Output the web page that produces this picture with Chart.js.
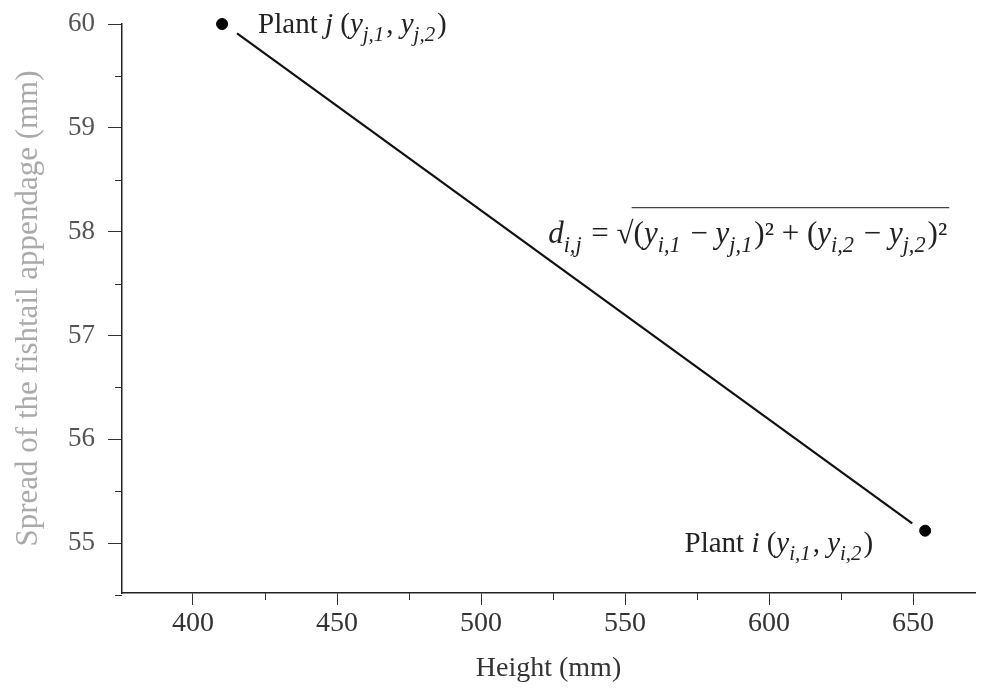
<!DOCTYPE html>
<html>
<head>
<meta charset="utf-8">
<script src="https://cdn.jsdelivr.net/npm/chart.js@4"></script>
<style>
  html, body { margin: 0; padding: 0; background: #fff; }
  #grafico { display: block; }
</style>
</head>
<body>
<canvas id="grafico" width="984" height="688"></canvas>
<script>
// pontos das duas plantas (altura mm, abertura mm)
const plantasX = [410.1, 654.2];
const plantasY = [60.0, 55.12];

// segmento entre as duas plantas (nao toca os pontos)
const retaX = [415.3, 649.7];
const retaY = [59.91, 55.19];

const ticksX = [400, 425, 450, 475, 500, 525, 550, 575, 600, 625, 650];
const ticksY = [54.5, 55, 55.5, 56, 56.5, 57, 57.5, 58, 58.5, 59, 59.5, 60];

const fonte = "Liberation Serif";

// desenha texto com italico / subscrito, devolve x final
function textoRico(ctx, partes, x, y, tam, medir) {
    partes.forEach(p => {
        const t = p.sub ? tam * 0.72 : tam;
        ctx.font = (p.it ? "italic " : "") + t + "px '" + fonte + "'";
        const dy = p.sub ? tam * 0.28 : 0;
        if (!medir) ctx.fillText(p.t, x, y + dy);
        x += ctx.measureText(p.t).width + (p.sub ? 2 : 0);
    });
    return x;
}

const legendaJ = [
    {t: "Plant "}, {t: "j", it: true}, {t: " ("},
    {t: "y", it: true}, {t: "j,1", it: true, sub: true}, {t: ", "},
    {t: "y", it: true}, {t: "j,2", it: true, sub: true}, {t: ")"}
];
const legendaI = [
    {t: "Plant "}, {t: "i", it: true}, {t: " ("},
    {t: "y", it: true}, {t: "i,1", it: true, sub: true}, {t: ", "},
    {t: "y", it: true}, {t: "i,2", it: true, sub: true}, {t: ")"}
];

const anotacoes = {
    id: "anotacoes",
    afterDatasetsDraw(chart) {
        const ctx = chart.ctx;
        const sx = chart.scales.x;
        const sy = chart.scales.y;
        const tam = 29;
        ctx.save();
        ctx.fillStyle = "#222";
        ctx.textBaseline = "alphabetic";
        ctx.textAlign = "left";

        // ticks menores, mais curtos
        ctx.strokeStyle = "#333";
        ctx.lineWidth = 1;
        ticksX.filter(v => v % 50 !== 0).forEach(v => {
            const px = Math.round(sx.getPixelForValue(v)) + 0.5;
            ctx.beginPath();
            ctx.moveTo(px, sy.bottom);
            ctx.lineTo(px, sy.bottom + 7);
            ctx.stroke();
        });
        ticksY.filter(v => v % 1 !== 0).forEach(v => {
            const py = Math.round(sy.getPixelForValue(v)) + 0.5;
            ctx.beginPath();
            ctx.moveTo(sx.left, py);
            ctx.lineTo(sx.left - 7, py);
            ctx.stroke();
        });

        // Plant j, a direita do ponto
        let px = sx.getPixelForValue(plantasX[0]) + 36;
        let py = sy.getPixelForValue(plantasY[0]) + 9;
        textoRico(ctx, legendaJ, px, py, tam);

        // Plant i, a esquerda do ponto
        const larg = textoRico(ctx, legendaI, 0, 0, tam, true);
        px = sx.getPixelForValue(plantasX[1]) - 52 - larg;
        py = sy.getPixelForValue(plantasY[1]) + 21;
        textoRico(ctx, legendaI, px, py, tam);

        // formula da distancia
        px = sx.getPixelForValue(523.3);
        py = sy.getPixelForValue(57.89);
        px = textoRico(ctx, [
            {t: "d", it: true}, {t: "i,j", it: true, sub: true}, {t: " = \u221A"}
        ], px, py, 31);
        const inicio = px;
        px = textoRico(ctx, [
            {t: "("}, {t: "y", it: true}, {t: "i,1", it: true, sub: true},
            {t: " \u2212 "}, {t: "y", it: true}, {t: "j,1", it: true, sub: true},
            {t: ")\u00B2 + ("}, {t: "y", it: true}, {t: "i,2", it: true, sub: true},
            {t: " \u2212 "}, {t: "y", it: true}, {t: "j,2", it: true, sub: true},
            {t: ")\u00B2"}
        ], px, py, 31);
        ctx.beginPath();
        ctx.moveTo(inicio - 2, py - 35.5);
        ctx.lineTo(px + 2, py - 35.5);
        ctx.strokeStyle = "#444";
        ctx.lineWidth = 1.2;
        ctx.stroke();
        ctx.restore();
    }
};

const ctx = document.getElementById("grafico").getContext("2d");

new Chart(ctx, {
    type: "scatter",
    data: {
        datasets: [{
            data: retaX.map((x, i) => ({x: x, y: retaY[i]})),
            showLine: true,
            borderColor: "#111",
            borderWidth: 2.2,
            pointRadius: 0,
            clip: false
        }, {
            data: plantasX.map((x, i) => ({x: x, y: plantasY[i]})),
            backgroundColor: "#000",
            borderColor: "#000",
            pointRadius: 5.5,
            clip: false
        }]
    },
    options: {
        responsive: false,
        animation: false,
        layout: { padding: { left: 0, right: 9, top: 24, bottom: 0 } },
        plugins: {
            legend: { display: false },
            tooltip: { enabled: false }
        },
        scales: {
            x: {
                type: "linear",
                min: 375.35,
                max: 671.5,
                afterBuildTicks: ax => { ax.ticks = ticksX.map(v => ({value: v})); },
                afterFit: ax => { ax.height = 95; ax.paddingLeft = 0; ax.paddingRight = 0; },
                border: { color: "#222", width: 1.5 },
                grid: {
                    drawOnChartArea: false,
                    tickLength: 12,
                    tickColor: c => (c.tick && c.tick.value % 50 === 0) ? "#333" : "rgba(0,0,0,0)"
                },
                ticks: {
                    autoSkip: false,
                    maxRotation: 0,
                    padding: 2,
                    color: "#333",
                    font: { family: fonte, size: 28 },
                    callback: v => v % 50 === 0 ? v : ""
                },
                title: {
                    display: true,
                    text: "Height (mm)",
                    color: "#333",
                    font: { family: fonte, size: 28 },
                    padding: { top: 0, bottom: 3 }
                }
            },
            y: {
                type: "linear",
                min: 54.52,
                max: 60,
                afterBuildTicks: ax => { ax.ticks = ticksY.map(v => ({value: v})); },
                afterFit: ax => { ax.width = 122; ax.paddingTop = 0; ax.paddingBottom = 0; },
                border: { color: "#222", width: 1.5 },
                grid: {
                    drawOnChartArea: false,
                    tickLength: 14,
                    tickColor: c => (c.tick && c.tick.value % 1 === 0) ? "#333" : "rgba(0,0,0,0)"
                },
                ticks: {
                    autoSkip: false,
                    padding: 13,
                    color: "#555",
                    font: { family: fonte, size: 27 },
                    callback: v => v % 1 === 0 ? v : ""
                },
                title: {
                    display: true,
                    text: "Spread of the fishtail appendage (mm)",
                    color: "#aaa",
                    font: { family: fonte, size: 31 },
                    padding: { top: 10, bottom: 0 }
                }
            }
        }
    },
    plugins: [anotacoes]
});
</script>
</body>
</html>
